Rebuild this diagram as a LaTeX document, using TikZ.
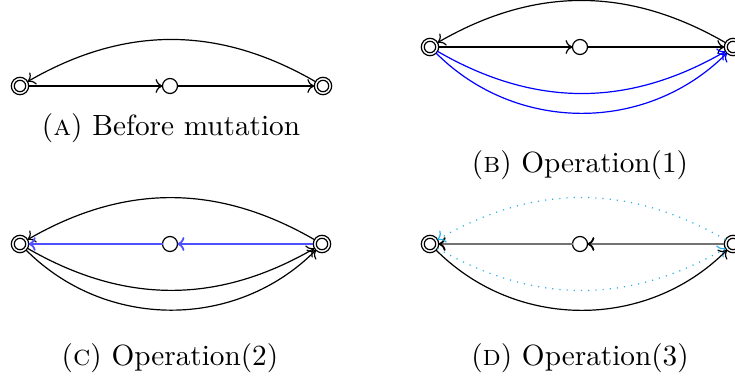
\documentclass[tikz,border=0pt]{standalone}
\usetikzlibrary{arrows.meta}
\definecolor{opcyan}{RGB}{40,175,235}
\definecolor{opblue}{RGB}{80,80,255}
\tikzset{
  st/.style={circle, draw, minimum size=5pt, inner sep=0pt, outer sep=0pt},
  acc/.style={circle, draw, minimum size=5.8pt, inner sep=0pt, outer sep=0pt,
    path picture={\draw (path picture bounding box.center) circle[radius=1.9pt];}},
  edge/.style={-{Computer Modern Rightarrow[length=2.3pt,width=4.6pt]}},
  bluearc/.style={edge, draw=blue},
  blueline/.style={edge, draw=opblue, line width=0.6pt},
  grayline/.style={-{Computer Modern Rightarrow[length=2.3pt,width=4.6pt,color=black]}, draw=black!55, line width=0.6pt},
  cyanarc/.style={edge, draw=opcyan, dotted},
  captext/.style={inner sep=0pt, font=\fontsize{9.75pt}{12pt}\selectfont}
}
\begin{document}
\begin{tikzpicture}[x=0.3333pt, y=0.3333pt]
\useasboundingbox (0,0) rectangle (735,-386);

% (A)
\node[acc] (a1) at (20,-86) {};
\node[st]  (a2) at (170,-86) {};
\node[acc] (a3) at (323,-86) {};
\draw[edge] (a1) -- (a2);
\draw[edge] (a2) -- (a3);
\draw[edge] (a3) to[bend right=30] (a1);
\node[captext] (ca) at (171,-128) {(\textsc{a}) Before mutation};

% (B)
\node[acc] (b1) at (430,-47) {};
\node[st]  (b2) at (580,-47) {};
\node[acc] (b3) at (733,-47) {};
\draw[edge] (b1) -- (b2);
\draw[edge] (b2) -- (b3);
\draw[edge] (b3) to[bend right=30] (b1);
\draw[bluearc] (b1) to[bend right=30] (b3);
\draw[bluearc] (b1) to[bend right=45] (b3);
\node[captext] (cb) at (580,-165) {(\textsc{b}) Operation(1)};

% (C)
\node[acc] (c1) at (20,-244) {};
\node[st]  (c2) at (170,-244) {};
\node[acc] (c3) at (322,-244) {};
\draw[edge] (c3) to[bend right=30] (c1);
\draw[blueline] (c3) -- (c2);
\draw[blueline] (c2) -- (c1);
\draw[edge] (c1) to[bend right=30] (c3);
\draw[edge] (c1) to[bend right=45] (c3);
\node[captext] (cc) at (170,-358) {(\textsc{c}) Operation(2)};

% (D)
\node[acc] (d1) at (430,-244) {};
\node[st]  (d2) at (580,-244) {};
\node[acc] (d3) at (733,-244) {};
\draw[grayline] (d3) -- (d2);
\draw[grayline] (d2) -- (d1);
\draw[cyanarc] (d3) to[bend right=30] (d1);
\draw[cyanarc] (d1) to[bend right=30] (d3);
\draw[edge] (d1) to[bend right=45] (d3);
\node[captext] (cd) at (580,-358) {(\textsc{d}) Operation(3)};
\end{tikzpicture}
\end{document}
